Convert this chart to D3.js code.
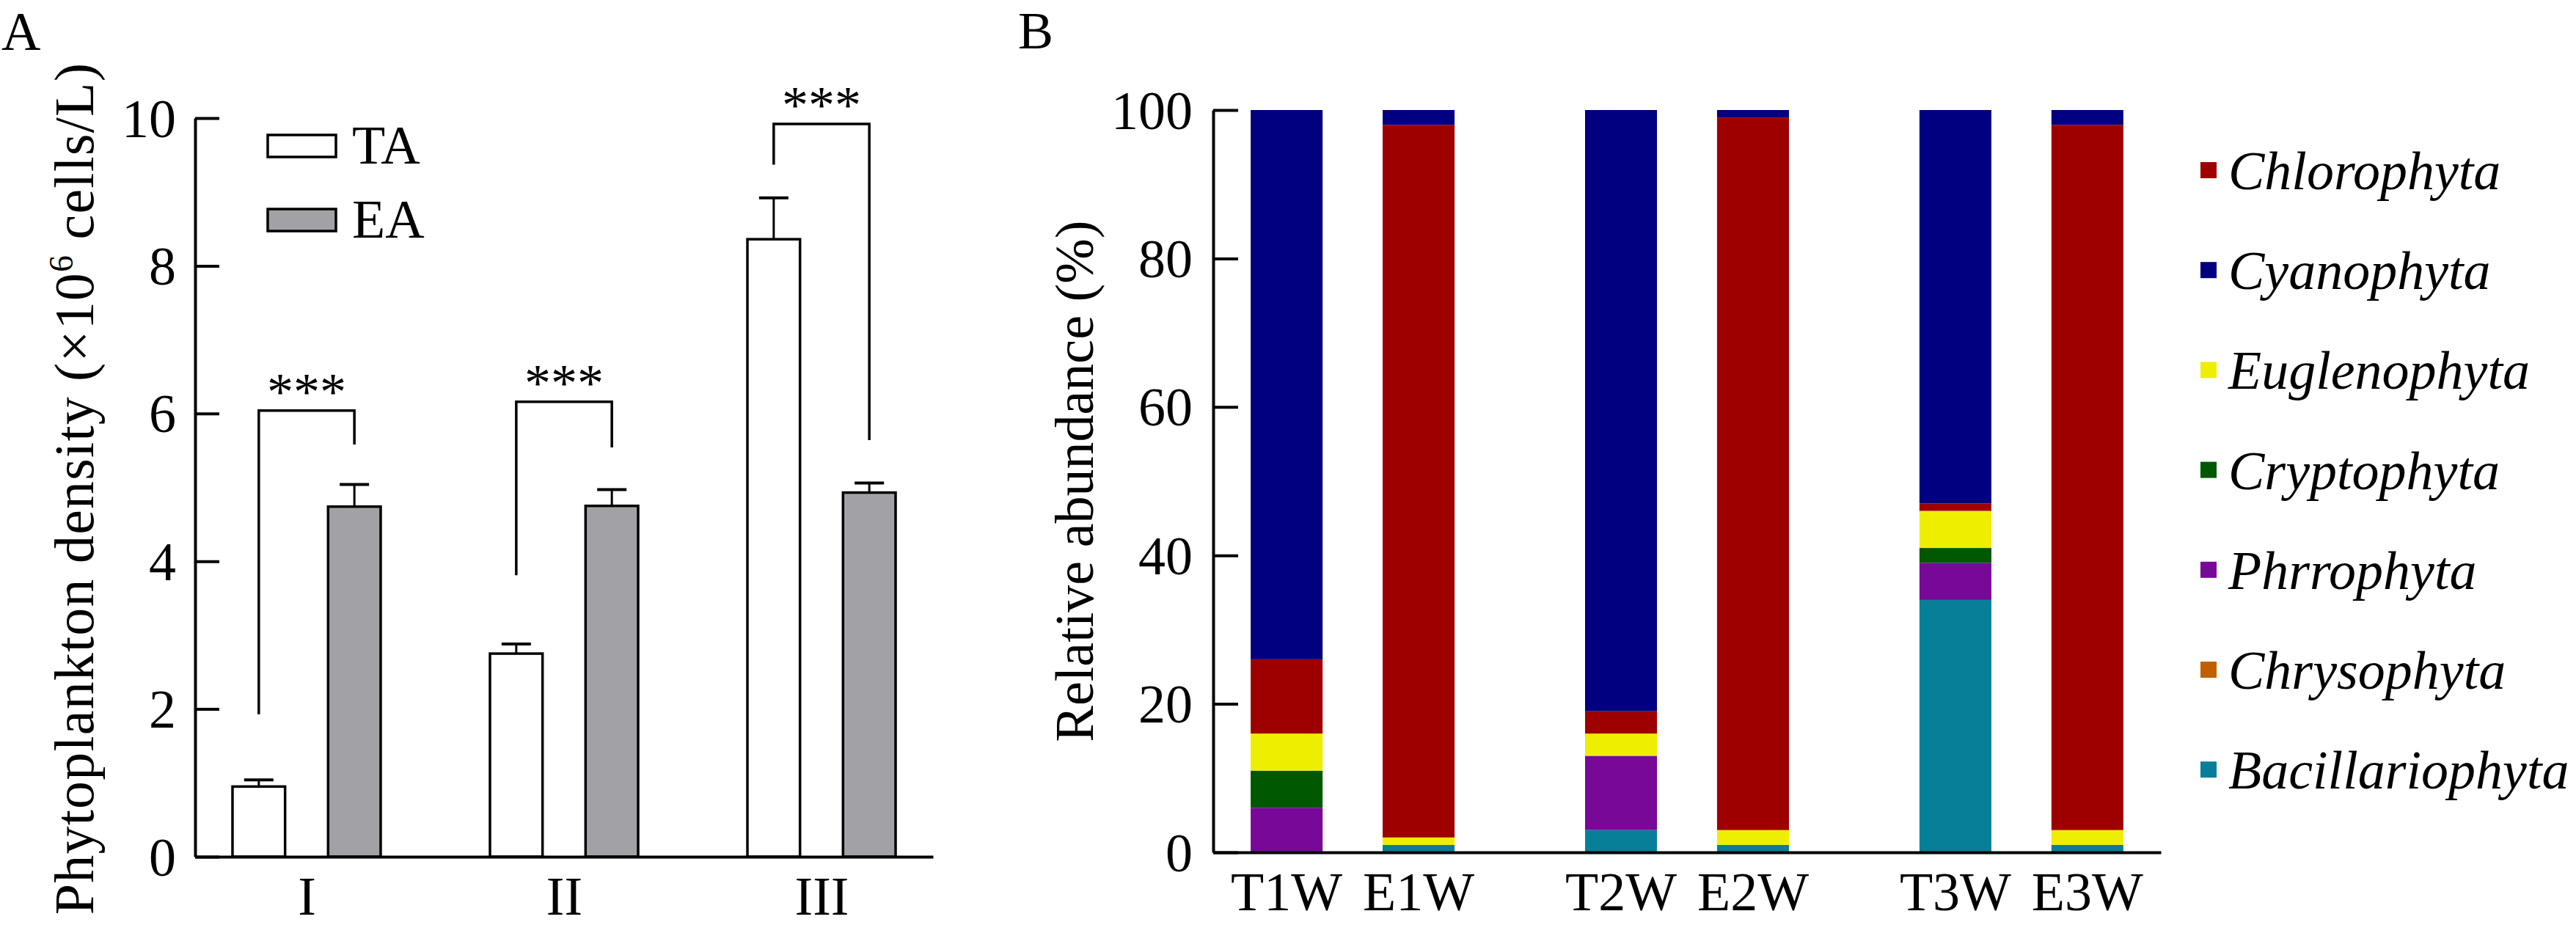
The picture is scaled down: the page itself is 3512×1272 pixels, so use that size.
<!DOCTYPE html>
<html>
<head>
<meta charset="utf-8">
<script src="https://cdn.jsdelivr.net/npm/d3@7"></script>
<style>
  body { margin: 0; background: #fff; }
  svg text { font-family: "Liberation Serif", "Times New Roman", serif; fill: #000; }
</style>
</head>
<body>
<svg id="fig" width="3512" height="1272"></svg>
<script>
// ---- panel A data: phytoplankton density (x10^6 cells/L)
const groupsA = ["I", "II", "III"];
const seriesA = ["TA", "EA"];
const meanTA = [0.95, 2.75, 8.36];
const errTA = [0.09, 0.13, 0.56];
const meanEA = [4.74, 4.75, 4.93];
const errEA = [0.30, 0.22, 0.13];
const ticksA = [0, 2, 4, 6, 8, 10];
// significance brackets (in data units)
const sigText = ["***", "***", "***"];
const brTop = [6.04, 6.16, 9.92];
const brLeftEnd = [1.93, 3.81, 9.37];
const brRightEnd = [5.58, 5.54, 5.64];

// ---- panel B data: relative abundance (%)
const samples = ["T1W", "E1W", "T2W", "E2W", "T3W", "E3W"];
const weeks = ["1W", "2W", "3W"];
const ticksB = [0, 20, 40, 60, 80, 100];
// stack order, bottom to top
const phyla = ["Bacillariophyta", "Chrysophyta", "Phrrophyta", "Cryptophyta", "Euglenophyta", "Chlorophyta", "Cyanophyta"];
const bacillariophyta = [0, 1, 3, 1, 34, 1];
const chrysophyta     = [0, 0, 0, 0, 0, 0];
const phrrophyta      = [6, 0, 10, 0, 5, 0];
const cryptophyta     = [5, 0, 0, 0, 2, 0];
const euglenophyta    = [5, 1, 3, 2, 5, 2];
const chlorophyta     = [10, 96, 3, 96, 1, 95];
const cyanophyta      = [74, 2, 81, 1, 53, 2];
const legendOrder = ["Chlorophyta", "Cyanophyta", "Euglenophyta", "Cryptophyta", "Phrrophyta", "Chrysophyta", "Bacillariophyta"];
const phylumColors = ["#087f98", "#c06000", "#770898", "#005800", "#eeee00", "#9e0000", "#000080"];

const svg = d3.select("#fig");
const FS = 74;

/* ~ ~ ~ ~ ~ ~ ~ PANEL A ~ ~ ~ ~ ~ ~ ~ */
const gA = svg.append("g");

const yA = d3.scaleLinear().domain([0, 10]).range([1168, 161]);
const xA = d3.scalePoint().domain(groupsA).range([266, 1272]).padding(0.433);
const xInA = d3.scaleBand().domain(seriesA).range([-101, 101]).paddingInner(0.45);

const rowsA = groupsA.map((g, i) => ({
  g, i,
  vals: [
    { s: "TA", m: meanTA[i], e: errTA[i] },
    { s: "EA", m: meanEA[i], e: errEA[i] }
  ]
}));

const fillA = { TA: "#ffffff", EA: "#a2a2a6" };

// error bars first, bars over them
const grp = gA.selectAll(".grp").data(rowsA).join("g")
  .attr("class", "grp")
  .attr("transform", d => `translate(${xA(d.g)},0)`);

grp.selectAll(".err").data(d => d.vals).join("g").attr("class", "err")
  .each(function(d) {
    const cx = xInA(d.s) + xInA.bandwidth() / 2;
    const g = d3.select(this);
    g.append("line").attr("x1", cx).attr("x2", cx)
      .attr("y1", yA(d.m)).attr("y2", yA(d.m + d.e))
      .attr("stroke", "#000").attr("stroke-width", 3);
    g.append("line").attr("x1", cx - 20).attr("x2", cx + 20)
      .attr("y1", yA(d.m + d.e)).attr("y2", yA(d.m + d.e))
      .attr("stroke", "#000").attr("stroke-width", 4);
  });

grp.selectAll("rect").data(d => d.vals).join("rect")
  .attr("x", d => xInA(d.s))
  .attr("width", xInA.bandwidth())
  .attr("y", d => yA(d.m))
  .attr("height", d => yA(0) - yA(d.m))
  .attr("fill", d => fillA[d.s])
  .attr("stroke", "#000")
  .attr("stroke-width", 3.5);

// brackets
grp.each(function(d) {
  const g = d3.select(this);
  const xl = xInA("TA") + xInA.bandwidth() / 2;
  const xr = xInA("EA") + xInA.bandwidth() / 2;
  g.append("path")
    .attr("d", `M${xl},${yA(brLeftEnd[d.i])}V${yA(brTop[d.i])}H${xr}V${yA(brRightEnd[d.i])}`)
    .attr("fill", "none").attr("stroke", "#000").attr("stroke-width", 3.5);
  g.append("text")
    .attr("x", (xl + xr) / 2).attr("y", yA(brTop[d.i]) - 2)
    .attr("text-anchor", "middle").attr("font-size", 72)
    .text(sigText[d.i]);
});

// axes
const axA = gA.append("g").attr("transform", `translate(266,0)`)
  .call(d3.axisLeft(yA).tickValues(ticksA).tickSize(-33).tickSizeOuter(0).tickPadding(26));
axA.selectAll("path, line").attr("stroke", "#000").attr("stroke-width", 4);
axA.selectAll("text").attr("font-size", FS).attr("font-family", null).attr("dy", "0.34em");

const axAx = gA.append("g").attr("transform", `translate(0,${yA(0)})`)
  .call(d3.axisBottom(xA).tickSize(0).tickPadding(0));
axAx.select(".domain").attr("stroke", "#000").attr("stroke-width", 4);
axAx.selectAll("text").attr("font-size", FS).attr("font-family", null).attr("y", 79).attr("dy", 0);

// y label
gA.append("text")
  .attr("transform", `translate(127,666) rotate(-90)`)
  .attr("text-anchor", "middle").attr("font-size", 76)
  .style("letter-spacing", "1.2px")
  .call(t => {
    t.append("tspan").text("Phytoplankton density (×10");
    t.append("tspan").attr("font-size", 46).attr("dy", -28).text("6");
    t.append("tspan").attr("dy", 28).text(" cells/L)");
  });

// legend
const legA = gA.selectAll(".legA").data(seriesA).join("g").attr("class", "legA")
  .attr("transform", (d, i) => `translate(365,${184 + i * 101})`);
legA.append("rect").attr("width", 93).attr("height", 30)
  .attr("fill", d => fillA[d]).attr("stroke", "#000").attr("stroke-width", 3.5);
legA.append("text").attr("x", 115).attr("y", 39).attr("font-size", FS).text(d => d);

gA.append("text").attr("x", 2).attr("y", 68).attr("font-size", 74).text("A");

/* ~ ~ ~ ~ ~ ~ ~ PANEL B ~ ~ ~ ~ ~ ~ ~ */
const gB = svg.append("g");

const yB = d3.scaleLinear().domain([0, 100]).range([1162, 150]);
const xB = d3.scalePoint().domain(weeks).range([1654, 2946]).padding(0.417);
const xInB = d3.scaleBand().domain(["T", "E"]).range([-139, 139]).paddingInner(0.455);
const sx = s => xB(s.slice(1)) + xInB(s[0]);
const color = d3.scaleOrdinal().domain(phyla).range(phylumColors);

const seriesVals = {
  Bacillariophyta: bacillariophyta, Chrysophyta: chrysophyta, Phrrophyta: phrrophyta,
  Cryptophyta: cryptophyta, Euglenophyta: euglenophyta, Chlorophyta: chlorophyta, Cyanophyta: cyanophyta
};
const table = samples.map((s, i) => {
  const row = { sample: s };
  phyla.forEach(p => row[p] = seriesVals[p][i]);
  return row;
});
const stacked = d3.stack().keys(phyla)(table);

gB.selectAll(".layer").data(stacked).join("g").attr("class", "layer")
  .attr("fill", d => color(d.key))
  .selectAll("rect").data(d => d).join("rect")
  .attr("x", d => sx(d.data.sample))
  .attr("width", xInB.bandwidth())
  .attr("y", d => yB(d[1]))
  .attr("height", d => yB(d[0]) - yB(d[1]));

const axB = gB.append("g").attr("transform", `translate(1654,0)`)
  .call(d3.axisLeft(yB).tickValues(ticksB).tickSize(-34).tickSizeOuter(0).tickPadding(28));
axB.selectAll("path, line").attr("stroke", "#000").attr("stroke-width", 4);
axB.selectAll("text").attr("font-size", FS).attr("font-family", null).attr("dy", "0.34em");

const axBx = gB.append("g").attr("transform", `translate(0,${yB(0)})`)
  .call(d3.axisBottom(xB).tickValues([]).tickSize(0));
axBx.select(".domain").attr("stroke", "#000").attr("stroke-width", 4);

gB.selectAll(".xlab").data(samples).join("text").attr("class", "xlab")
  .attr("x", d => sx(d) + xInB.bandwidth() / 2)
  .attr("y", yB(0) + 79)
  .attr("text-anchor", "middle").attr("font-size", FS)
  .text(d => d);

gB.append("text")
  .attr("transform", `translate(1490,${(yB(0) + yB(100)) / 2}) rotate(-90)`)
  .attr("text-anchor", "middle").attr("font-size", FS)
  .text("Relative abundance (%)");

const legB = gB.selectAll(".legB").data(legendOrder).join("g").attr("class", "legB")
  .attr("transform", (d, i) => `translate(3000,${221 + i * 136.2})`);
legB.append("rect").attr("width", 22).attr("height", 22).attr("fill", d => color(d));
legB.append("text").attr("x", 38).attr("y", 37).attr("font-size", FS)
  .attr("font-style", "italic").text(d => d);

gB.append("text").attr("x", 1388).attr("y", 66).attr("font-size", 72).text("B");
</script>
</body>
</html>
